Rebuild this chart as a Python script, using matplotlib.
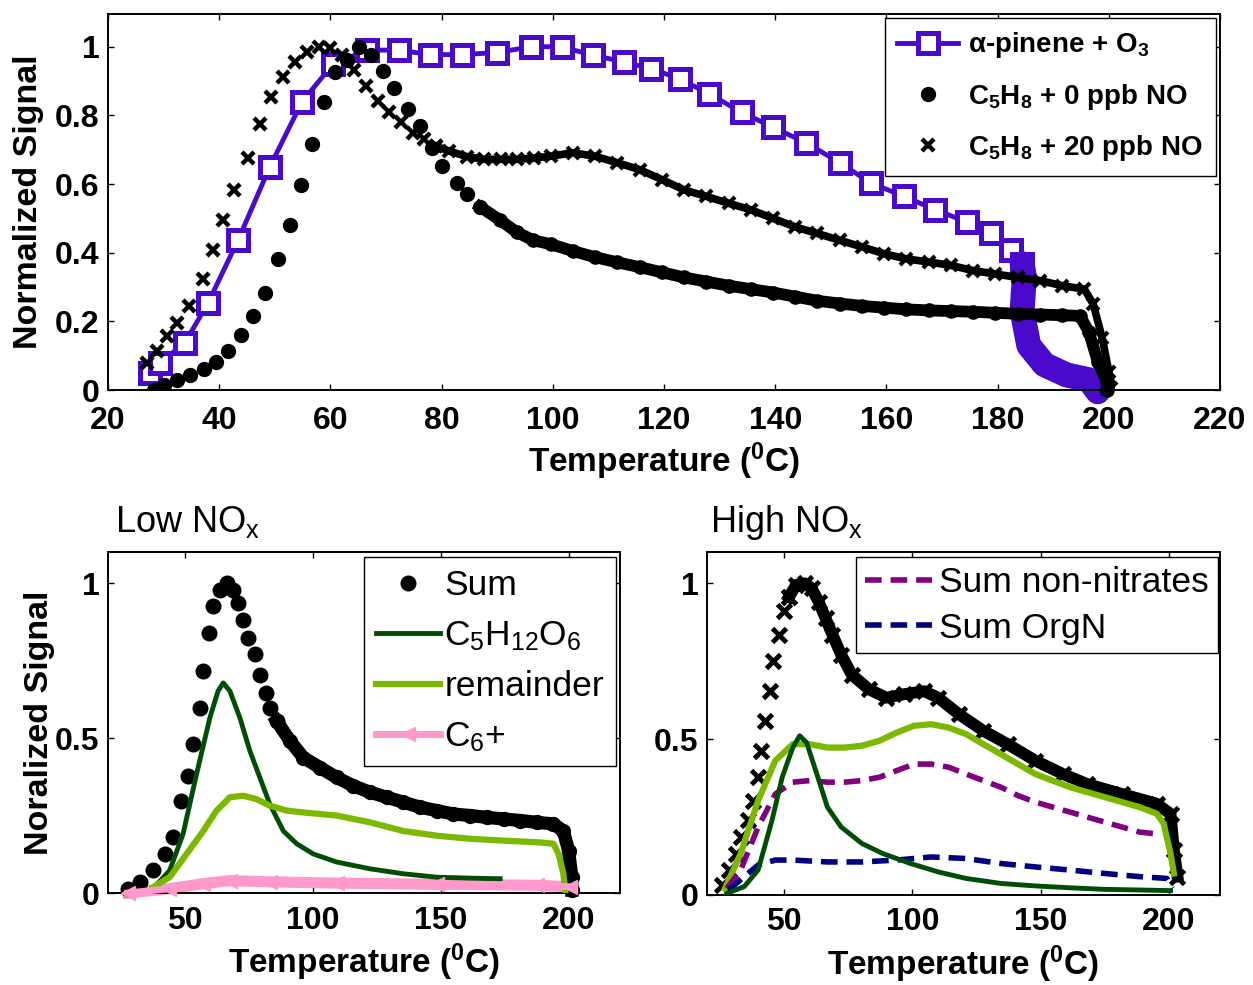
""" Thermogram comparison figure"""
import matplotlib
matplotlib.use('Agg')
import matplotlib.pyplot as plt

plt.rcParams['font.family'] = ['Liberation Sans', 'DejaVu Sans']
plt.rcParams['mathtext.fontset'] = 'custom'
plt.rcParams['mathtext.rm'] = 'Liberation Sans'
plt.rcParams['mathtext.bf'] = 'Liberation Sans:bold'
plt.rcParams['mathtext.default'] = 'regular'

# Colours
PURPLE = '#4a0acc'
DKGREEN = '#004d05'
LTGREEN = '#7db800'
PINK = '#ff99cc'
MAGENTA = '#800080'
NAVY = '#000080'

# ---- Top panel data ----
apin_T = [27.6, 29.4, 33.8, 38.0, 43.4, 49.1, 54.9, 60.5, 66.6, 72.3, 77.9, 83.7,
          90.0, 96.1, 101.6, 107.2, 112.8, 117.6, 122.8, 128.0, 134.0, 139.6, 145.6,
          151.6, 157.2, 163.2, 168.8, 174.4, 178.8, 182.4, 184.4]
apin_S = [0.05, 0.08, 0.137, 0.254, 0.437, 0.65, 0.84, 0.95, 0.99, 0.99, 0.977, 0.977,
          0.983, 1.0, 1.0, 0.975, 0.956, 0.936, 0.907, 0.863, 0.809, 0.765, 0.72,
          0.662, 0.603, 0.564, 0.525, 0.49, 0.456, 0.407, 0.368]
apin_tail_T = [184.4, 184.8, 184.4, 185.6, 188.4, 192.4, 196.4, 198.0]
apin_tail_S = [0.368, 0.33, 0.23, 0.13, 0.074, 0.044, 0.03, -0.005]

no0_T = [28.2, 30.0, 32.4, 34.8, 37.3, 39.4, 41.5, 43.9, 46.1, 48.2, 50.6, 52.7, 54.7,
         56.7, 58.8, 60.9, 63.0, 65.2, 67.3, 69.4, 71.5, 74.0, 76.1, 78.2, 80.0, 82.7,
         84.5, 86.9]
no0_S = [0.0, 0.015, 0.03, 0.044, 0.06, 0.083, 0.113, 0.16, 0.216, 0.284, 0.382, 0.48,
         0.598, 0.716, 0.838, 0.926, 0.96, 1.0, 0.975, 0.93, 0.88, 0.82, 0.77, 0.706,
         0.652, 0.603, 0.57, 0.534]
no0_dense_T = [86.9, 90.5, 93.5, 96.5, 99.6, 103.6, 107.6, 111.6, 115.6, 119.6, 123.6,
               127.6, 131.6, 135.6, 139.6, 143.6, 147.6, 151.6, 155.6, 159.6, 163.6,
               167.6, 171.6, 175.6, 179.6, 183.6, 187.6, 191.6, 194.8, 196.4, 198.0,
               199.6, 199.6]
no0_dense_S = [0.534, 0.495, 0.46, 0.436, 0.425, 0.405, 0.387, 0.372, 0.358, 0.343, 0.328,
               0.316, 0.304, 0.294, 0.284, 0.272, 0.26, 0.252, 0.245, 0.24, 0.235,
               0.232, 0.23, 0.228, 0.225, 0.222, 0.22, 0.218, 0.216, 0.17, 0.083,
               0.025, 0.0]

no20_T = [27.0, 28.8, 30.6, 32.4, 34.5, 37.0, 38.8, 40.6, 42.7, 45.2, 47.3, 49.4, 51.5,
          53.6, 55.8, 57.9, 60.0, 62.1, 64.2, 66.4, 68.5, 70.6, 72.7, 74.8, 76.9, 79.0]
no20_S = [0.078, 0.113, 0.157, 0.196, 0.245, 0.324, 0.407, 0.495, 0.583, 0.676, 0.775,
          0.853, 0.912, 0.956, 0.985, 1.0, 0.995, 0.975, 0.931, 0.887, 0.843, 0.809,
          0.78, 0.75, 0.73, 0.71]
no20_dense_T = [79.0, 81.4, 84.5, 87.6, 90.6, 93.6, 96.7, 99.6, 103.6, 107.6, 111.6,
                115.6, 119.6, 123.6, 127.6, 131.6, 135.6, 139.6, 143.6, 147.6, 151.6,
                155.6, 159.6, 163.6, 167.6, 171.6, 175.6, 179.6, 183.6, 187.6, 191.6,
                195.6, 197.2, 198.8, 200.0, 200.4]
no20_dense_S = [0.71, 0.696, 0.68, 0.672, 0.672, 0.672, 0.676, 0.681, 0.691, 0.681,
                0.662, 0.642, 0.613, 0.583, 0.564, 0.544, 0.525, 0.5, 0.475, 0.456,
                0.436, 0.417, 0.397, 0.382, 0.373, 0.363, 0.348, 0.338, 0.328, 0.319,
                0.304, 0.294, 0.25, 0.152, 0.054, 0.005]

# ---- Low NOx panel data ----
low_sum_T = [27.8, 32.4, 37.6, 42.2, 45.4, 48.7, 51.3, 53.3, 55.9, 57.2, 59.5, 61.1,
             63.7, 66.3, 68.9, 70.9, 72.8, 74.8, 77.4, 79.3, 81.9, 83.2, 85.9]
low_sum_S = [0.014, 0.035, 0.073, 0.126, 0.18, 0.298, 0.378, 0.48, 0.598, 0.716, 0.839,
             0.925, 0.979, 1.0, 0.979, 0.936, 0.882, 0.823, 0.77, 0.705, 0.646, 0.598,
             0.555]
low_sum_dense_T = [85.9, 91.1, 96.3, 102.8, 109.3, 115.8, 122.4, 128.9, 135.4, 141.9,
                   148.4, 154.9, 161.5, 168.0, 174.5, 181.0, 187.5, 194.0, 197.9,
                   199.9, 201.2, 201.2]
low_sum_dense_S = [0.555, 0.491, 0.437, 0.405, 0.373, 0.346, 0.325, 0.309, 0.293, 0.277,
                   0.266, 0.255, 0.25, 0.244, 0.239, 0.234, 0.228, 0.223, 0.2, 0.137,
                   0.051, 0.009]
low_c5_T = [37.6, 44.1, 49.3, 54.6, 59.8, 63.0, 65.0, 67.6, 71.5, 75.4, 79.3, 83.2,
            88.5, 93.7, 100.2, 109.3, 122.4, 135.4, 148.4, 161.5, 173.2]
low_c5_S = [0.014, 0.073, 0.19, 0.384, 0.566, 0.652, 0.678, 0.652, 0.566, 0.459, 0.373,
            0.287, 0.2, 0.159, 0.126, 0.1, 0.078, 0.062, 0.051, 0.048, 0.046]
low_rem_T = [37.6, 44.1, 50.7, 57.2, 62.4, 67.6, 72.8, 78.0, 83.2, 89.8, 96.3, 109.3,
             122.4, 135.4, 148.4, 161.5, 174.5, 187.5, 194.0, 196.0, 197.9, 198.6]
low_rem_S = [0.019, 0.051, 0.126, 0.2, 0.266, 0.309, 0.314, 0.303, 0.282, 0.266, 0.26,
             0.25, 0.228, 0.2, 0.185, 0.175, 0.169, 0.164, 0.159, 0.126, 0.062, 0.009]
low_c6_T = [27.8, 44.0, 57.2, 67.6, 83.2, 109.3, 148.4, 187.5, 200.6]
low_c6_S = [0.0, 0.014, 0.03, 0.04, 0.036, 0.032, 0.028, 0.025, 0.02]

# ---- High NOx panel data ----
high_sum_T = [25.7, 28.4, 31.1, 33.1, 35.8, 37.8, 39.9, 41.2, 42.6, 44.6, 45.9, 48.0,
              50.0, 52.0]
high_sum_S = [0.032, 0.08, 0.133, 0.186, 0.239, 0.303, 0.378, 0.463, 0.559, 0.654, 0.75,
              0.835, 0.91, 0.957]
high_sum_dense_T = [52.0, 54.7, 58.1, 60.8, 63.5, 66.2, 68.9, 72.3, 76.4, 83.1, 89.9,
                    96.6, 104.7, 110.1, 118.2, 127.7, 137.2, 148.0, 158.8, 168.2, 181.8,
                    195.3, 200.7, 202.0, 203.4]
high_sum_dense_S = [0.957, 0.995, 1.0, 0.984, 0.941, 0.888, 0.835, 0.771, 0.707, 0.66,
                    0.633, 0.644, 0.654, 0.633, 0.58, 0.527, 0.484, 0.431, 0.388, 0.356,
                    0.324, 0.293, 0.26, 0.144, 0.059]
high_rem_T = [27.0, 33.1, 39.9, 46.6, 53.4, 60.1, 66.9, 73.6, 80.4, 87.2, 93.9, 100.7,
              107.4, 114.2, 121.0, 127.7, 134.5, 141.2, 148.0, 154.7, 161.5, 168.2,
              175.0, 181.8, 188.5, 195.3, 198.0, 200.7, 202.0]
high_rem_S = [0.021, 0.133, 0.303, 0.431, 0.484, 0.484, 0.473, 0.473, 0.479, 0.495,
              0.521, 0.543, 0.548, 0.537, 0.516, 0.484, 0.452, 0.42, 0.388, 0.367,
              0.346, 0.33, 0.314, 0.298, 0.282, 0.261, 0.229, 0.133, 0.069]
high_c5_T = [27.7, 34.5, 39.9, 45.3, 49.3, 53.4, 56.1, 58.8, 62.8, 66.9, 72.3, 80.4,
             88.5, 99.3, 110.1, 121.0, 134.5, 148.0, 161.5, 175.0, 188.5, 200.7]
high_c5_S = [0.005, 0.027, 0.08, 0.239, 0.378, 0.473, 0.511, 0.489, 0.388, 0.282, 0.218,
             0.165, 0.133, 0.101, 0.074, 0.053, 0.037, 0.029, 0.023, 0.018, 0.016, 0.014]
high_nonnit_T = [27.7, 33.1, 39.9, 46.6, 53.4, 60.1, 66.9, 73.6, 80.4, 87.2, 93.9,
                 100.7, 107.4, 114.2, 121.0, 127.7, 134.5, 141.2, 148.0, 154.7, 161.5,
                 168.2, 175.0, 181.8, 188.5, 193.9]
high_nonnit_S = [0.021, 0.08, 0.218, 0.324, 0.362, 0.367, 0.362, 0.362, 0.367, 0.378,
                 0.399, 0.42, 0.42, 0.41, 0.388, 0.367, 0.346, 0.319, 0.298, 0.282,
                 0.266, 0.25, 0.234, 0.218, 0.202, 0.197]
high_orgn_T = [28.4, 34.5, 39.9, 46.6, 53.4, 66.9, 80.4, 93.9, 107.4, 121.0, 134.5,
               148.0, 161.5, 175.0, 188.5, 199.3, 201.4]
high_orgn_S = [0.016, 0.059, 0.096, 0.112, 0.112, 0.106, 0.106, 0.112, 0.122, 0.117,
               0.101, 0.09, 0.08, 0.069, 0.059, 0.053, 0.021]

TEMP_LABEL = 'Temperature ($^0$C)'


def style_axes(ax, xticks, yticks, yticklabels, size=23, xpad=9):
    ax.set_xticks(xticks)
    ax.set_yticks(yticks)
    ax.set_yticklabels(yticklabels)
    ax.tick_params(direction='in', top=True, right=True, length=4, width=1,
                   labelsize=size, pad=6)
    ax.tick_params(axis='x', pad=xpad)
    for lab in ax.get_xticklabels() + ax.get_yticklabels():
        lab.set_fontweight('bold')
    for sp in ax.spines.values():
        sp.set_linewidth(1.4)


def main():
    fig = plt.figure(figsize=(12.53, 9.85), dpi=100)

    # ---------- top panel ----------
    ax = fig.add_axes([0.0862, 0.604, 0.8875, 0.3817])
    h1, = ax.plot(apin_T, apin_S, '-s', color=PURPLE, lw=3.5, ms=14, mew=3.6,
                  mfc='white', mec=PURPLE, label=r'$\alpha$-pinene + O$_3$')
    ax.plot(apin_tail_T, apin_tail_S, '-', color=PURPLE, lw=18,
            solid_capstyle='round', clip_on=False)
    h2, = ax.plot(no0_T, no0_S, 'o', color='black', ms=10,
                  label='C$_5$H$_8$ + 0 ppb NO', zorder=3)
    ax.plot(no0_dense_T, no0_dense_S, 'o-', color='black', ms=9.5, lw=8.5,
            zorder=3, clip_on=False)
    h3, = ax.plot(no20_T, no20_S, 'x', color='black', ms=9, mew=3.2,
                  label='C$_5$H$_8$ + 20 ppb NO', zorder=3)
    ax.plot(no20_dense_T, no20_dense_S, 'x-', color='black', ms=8.5, mew=3, lw=5.5,
            zorder=3)
    ax.set_xlim(20, 220)
    ax.set_ylim(0, 1.095)
    style_axes(ax, range(20, 221, 20), [0, 0.2, 0.4, 0.6, 0.8, 1],
               ['0', '0.2', '0.4', '0.6', '0.8', '1'], xpad=11.5)
    ax.set_xlabel(TEMP_LABEL, fontsize=24, fontweight='bold')
    ax.set_ylabel('Normalized Signal', fontsize=24.5, fontweight='bold')
    ax.xaxis.set_label_coords(0.5, -0.135)
    ax.yaxis.set_label_coords(-0.058, 0.5)
    leg = ax.legend(handles=[h1, h2, h3], loc='upper right',
                    bbox_to_anchor=(0.996, 0.99), borderaxespad=0,
                    prop={'weight': 'bold', 'size': 20}, fancybox=False,
                    edgecolor='black', framealpha=1, handlelength=2.2,
                    handletextpad=0.36, labelspacing=0.77, borderpad=0.45)
    leg.get_frame().set_linewidth(1)

    # ---------- low NOx ----------
    ax2 = fig.add_axes([0.0862, 0.0934, 0.4086, 0.346])
    ax2.plot(low_c6_T, low_c6_S, '-', color=PINK, lw=8, zorder=2, clip_on=False)
    hs, = ax2.plot(low_sum_T, low_sum_S, 'o', color='black', ms=10.5, label='Sum',
                   zorder=3, clip_on=False)
    ax2.plot(low_sum_dense_T, low_sum_dense_S, 'o-', color='black', ms=10, lw=9.5,
             zorder=3, clip_on=False)
    hc5, = ax2.plot(low_c5_T, low_c5_S, '-', color=DKGREEN, lw=3.5,
                    label='C$_5$H$_{12}$O$_6$', zorder=4)
    hr, = ax2.plot(low_rem_T, low_rem_S, '-', color=LTGREEN, lw=4.5,
                   label='remainder', zorder=4)
    hc6, = ax2.plot(low_c6_T, low_c6_S, '<', color=PINK, ms=10, lw=5,
                    ls='-', label='C$_6$+', zorder=5, clip_on=False)
    ax2.set_xlim(20, 220)
    ax2.set_ylim(0, 1.1)
    style_axes(ax2, [50, 100, 150, 200], [0, 0.5, 1], ['0', '0.5', '1'])
    ax2.set_xlabel(TEMP_LABEL, fontsize=24, fontweight='bold')
    ax2.set_ylabel('Noralized Signal', fontsize=24.5, fontweight='bold')
    ax2.xaxis.set_label_coords(0.5, -0.142)
    ax2.yaxis.set_label_coords(-0.104, 0.5)
    ax2.text(0.014, 1.058, 'Low NO$_x$', transform=ax2.transAxes, fontsize=26,
             va='baseline', ha='left')
    leg2 = ax2.legend(handles=[hs, hc5, hr, hc6], loc='upper right',
                      bbox_to_anchor=(0.992, 0.985), borderaxespad=0,
                      prop={'size': 25.5}, fancybox=False, edgecolor='black',
                      framealpha=1, handlelength=1.8, handletextpad=0.12,
                      labelspacing=0.48, borderpad=0.34)
    leg2.get_frame().set_linewidth(1)

    # ---------- high NOx ----------
    ax3 = fig.add_axes([0.5643, 0.0914, 0.4094, 0.348])
    ax3.plot(high_sum_T, high_sum_S, 'x', color='black', ms=9.5, mew=3.5,
             zorder=3, clip_on=False)
    ax3.plot(high_sum_dense_T, high_sum_dense_S, 'x-', color='black', ms=9.5, mew=3.5,
             lw=8.5, zorder=3, clip_on=False)
    ax3.plot(high_rem_T, high_rem_S, '-', color=LTGREEN, lw=4.5, zorder=4)
    ax3.plot(high_c5_T, high_c5_S, '-', color=DKGREEN, lw=3.5, zorder=5)
    hn, = ax3.plot(high_nonnit_T, high_nonnit_S, '--', color=MAGENTA, lw=4,
                   dashes=(3, 1.6), label='Sum non-nitrates', zorder=4)
    ho, = ax3.plot(high_orgn_T, high_orgn_S, '--', color=NAVY, lw=4,
                   dashes=(3, 1.6), label='Sum OrgN', zorder=4)
    ax3.set_xlim(20, 220)
    ax3.set_ylim(0, 1.1)
    style_axes(ax3, [50, 100, 150, 200], [0, 0.5, 1], ['0', '0.5', '1'])
    ax3.set_xlabel(TEMP_LABEL, fontsize=24, fontweight='bold')
    ax3.xaxis.set_label_coords(0.5, -0.142)
    ax3.text(0.006, 1.058, 'High NO$_x$', transform=ax3.transAxes, fontsize=26,
             va='baseline', ha='left')
    leg3 = ax3.legend(handles=[hn, ho], loc='upper right',
                      bbox_to_anchor=(0.996, 0.985), borderaxespad=0,
                      prop={'size': 25.5}, fancybox=False, edgecolor='black',
                      framealpha=1, handlelength=1.9, handletextpad=0.2,
                      labelspacing=0.35, borderpad=0.25)
    leg3.get_frame().set_linewidth(1)

    fig.savefig('out.png', dpi=100)


if __name__ == '__main__':
    main()
